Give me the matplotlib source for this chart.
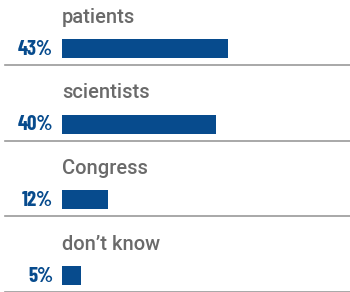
import matplotlib
matplotlib.use("Agg")
import matplotlib.pyplot as plt
from matplotlib import font_manager

categories = ["patients", "scientists", "Congress", "don\u2019t know"]
values = [43, 40, 12, 5]

BLUE = "#074b8d"
GREY_TXT = "#6a6a6a"
LINE = "#9a9a9a"

names = {f.name for f in font_manager.fontManager.ttflist}
label_font = next((n for n in ["Roboto", "Open Sans"] if n in names), "DejaVu Sans")
pct_font = next((n for n in ["Barlow Condensed", "Roboto Condensed", "Archivo Narrow"] if n in names), "DejaVu Sans")

fig = plt.figure(figsize=(3.5, 2.92), dpi=100)
ax = fig.add_axes([0, 0, 1, 1])

px_per_unit = 3.86
ax.set_xlim(-62 / px_per_unit, 288 / px_per_unit)
row_px = 75.5
ax.set_ylim((292 - 48.5) / row_px, -48.5 / row_px)

rows = list(range(len(categories)))
ax.barh(rows, values, height=19 / row_px, color=BLUE, left=0)

for i, (cat, v) in enumerate(zip(categories, values)):
    ax.text(0, i - 31 / row_px, cat, ha="left", va="center",
            fontsize=14.5, color=GREY_TXT, family=label_font, fontweight="medium")
    ax.text(-2.3, i + 1 / row_px, f"{v}%", ha="right", va="center",
            fontsize=15, color=BLUE, family=pct_font, fontweight="bold")
    ax.axhline(i + 16.5 / row_px, xmin=5 / 350, xmax=1, color=LINE, lw=1.2)

ax.axis("off")
fig.savefig("out.png", dpi=100)
